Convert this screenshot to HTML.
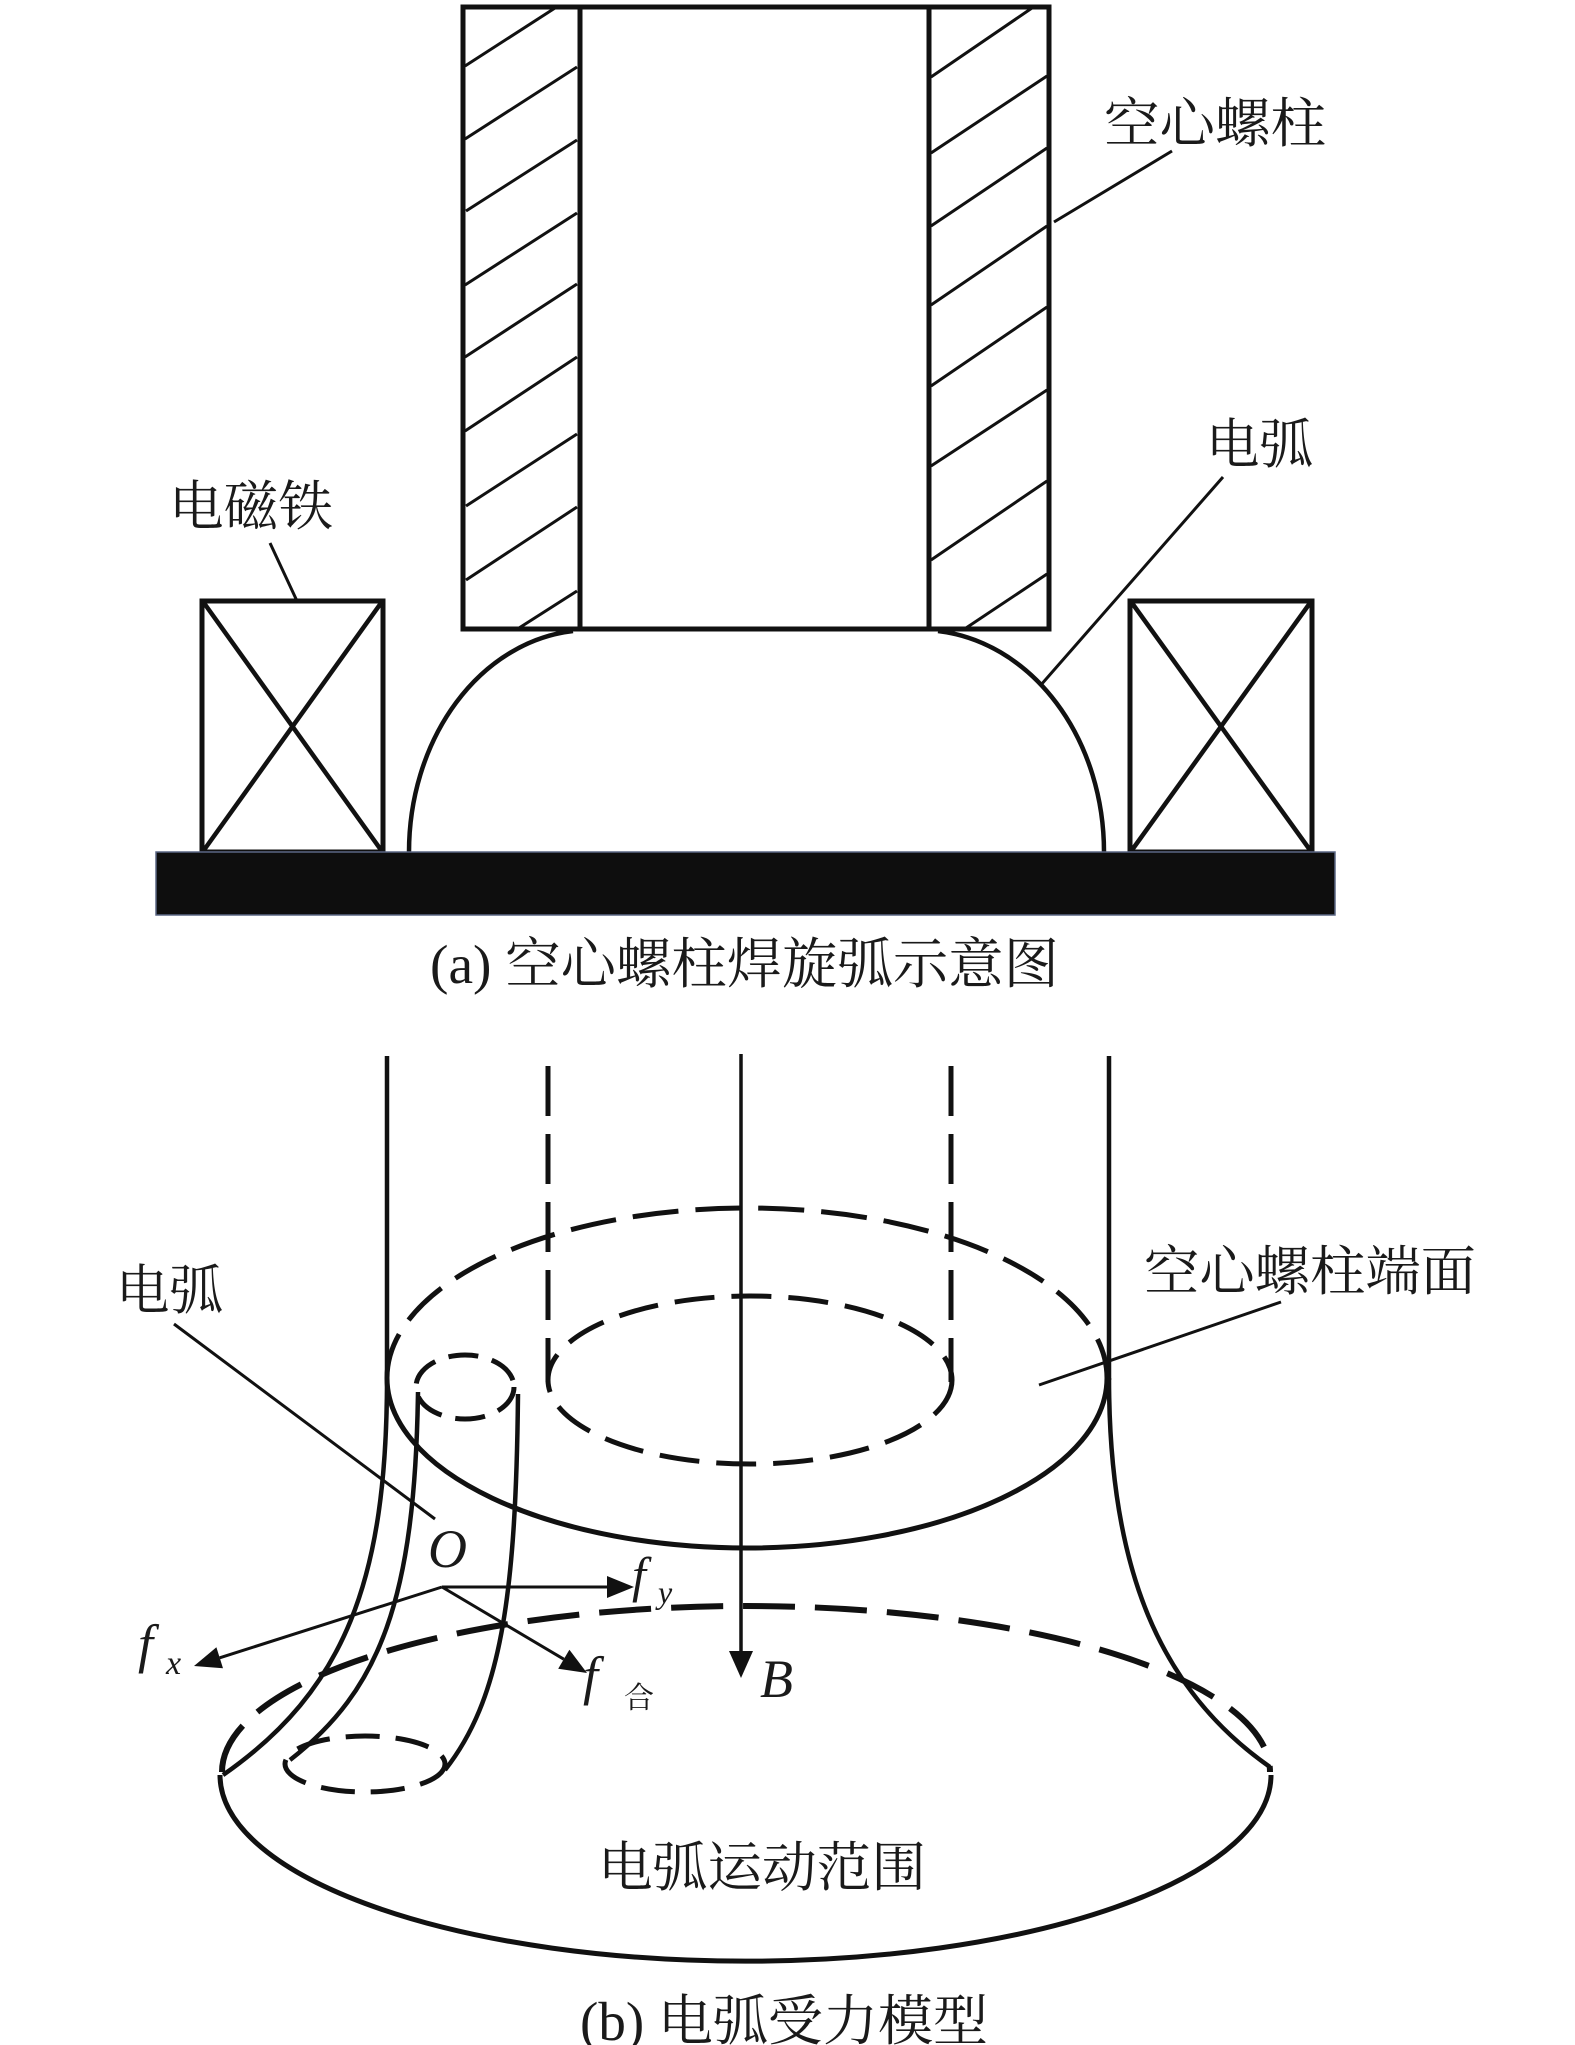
<!DOCTYPE html>
<html><head><meta charset="utf-8">
<style>
html,body{margin:0;padding:0;background:#fff;}
svg{display:block;}
text{font-family:"Liberation Serif","Noto Serif CJK SC",serif;fill:#1a1a1a;}
.it{font-style:italic;}
</style></head><body>
<svg width="1575" height="2045" viewBox="0 0 1575 2045" xmlns="http://www.w3.org/2000/svg">
<!-- ===== Part (a) ===== -->
<g fill="none" stroke="#111" stroke-linecap="butt">
  <rect x="463" y="7" width="586" height="622" stroke-width="5"/>
  <line x1="580" y1="7" x2="580" y2="629" stroke-width="5"/>
  <line x1="929" y1="7" x2="929" y2="629" stroke-width="5"/>
  <g stroke-width="3">
    <line x1="465" y1="66" x2="555" y2="8"/>
    <line x1="465" y1="139" x2="577" y2="67"/>
    <line x1="466" y1="211" x2="577" y2="140"/>
    <line x1="465" y1="285" x2="577" y2="213"/>
    <line x1="465" y1="357" x2="577" y2="284"/>
    <line x1="465" y1="431" x2="577" y2="357"/>
    <line x1="466" y1="506" x2="577" y2="434"/>
    <line x1="466" y1="580" x2="577" y2="507"/>
    <line x1="519" y1="628" x2="577" y2="591"/>
    <line x1="931" y1="77" x2="1032" y2="8"/>
    <line x1="931" y1="153" x2="1047" y2="76"/>
    <line x1="931" y1="226" x2="1047" y2="148"/>
    <line x1="931" y1="305" x2="1047" y2="226"/>
    <line x1="931" y1="386" x2="1047" y2="307"/>
    <line x1="931" y1="466" x2="1047" y2="390"/>
    <line x1="931" y1="560" x2="1047" y2="481"/>
    <line x1="966" y1="628" x2="1047" y2="574"/>
  </g>
  <rect x="202" y="601" width="181" height="251" stroke-width="5"/>
  <line x1="204" y1="603" x2="381" y2="850" stroke-width="4.5"/>
  <line x1="381" y1="603" x2="204" y2="850" stroke-width="4.5"/>
  <rect x="1130" y="601" width="182" height="251" stroke-width="5"/>
  <line x1="1132" y1="603" x2="1310" y2="850" stroke-width="4.5"/>
  <line x1="1310" y1="603" x2="1132" y2="850" stroke-width="4.5"/>
  <path d="M573,631 A181 222 0 0 0 409,852" stroke-width="4.5"/>
  <path d="M938,631 A184 222 0 0 1 1104,852" stroke-width="4.5"/>
  <line x1="270" y1="543" x2="297" y2="601" stroke-width="3"/>
  <line x1="1054" y1="222" x2="1172" y2="151" stroke-width="3"/>
  <line x1="1223" y1="477" x2="1040" y2="686" stroke-width="3"/>
</g>
<rect x="156" y="852" width="1179" height="63" fill="#0e0e0e" stroke="#5a6684" stroke-width="1.5"/>

<text x="1104" y="142" font-size="54" textLength="222" lengthAdjust="spacingAndGlyphs">空心螺柱</text>
<text x="169" y="525" font-size="54" textLength="164" lengthAdjust="spacingAndGlyphs">电磁铁</text>
<text x="1206" y="463" font-size="54" textLength="107" lengthAdjust="spacingAndGlyphs">电弧</text>
<text x="430" y="983" font-size="55" textLength="629" lengthAdjust="spacingAndGlyphs">(a) 空心螺柱焊旋弧示意图</text>

<!-- ===== Part (b) ===== -->
<g fill="none" stroke="#111" stroke-linecap="butt">
  <line x1="387" y1="1056" x2="387" y2="1380" stroke-width="4.5"/>
  <line x1="1109" y1="1056" x2="1109" y2="1380" stroke-width="4.5"/>
  <line x1="548" y1="1066" x2="548" y2="1382" stroke-width="5" stroke-dasharray="50 18"/>
  <line x1="951" y1="1066" x2="951" y2="1382" stroke-width="5" stroke-dasharray="50 18"/>
  <line x1="741" y1="1054" x2="741" y2="1655" stroke-width="3.5"/>
  <path d="M387,1378 A360 170 0 0 1 1107,1378" stroke-width="5" stroke-dasharray="46 17"/>
  <path d="M387,1378 A360 170 0 0 0 1107,1378" stroke-width="5"/>
  <ellipse cx="750" cy="1380" rx="202" ry="84" stroke-width="5" stroke-dasharray="40 17"/>
  <ellipse cx="465" cy="1387" rx="49" ry="32" stroke-width="5" stroke-dasharray="30 14"/>
  <path d="M418,1392 C415,1600 380,1690 290,1760" stroke-width="4.5"/>
  <path d="M518,1394 C516,1600 500,1700 445,1770" stroke-width="4.5"/>
  <ellipse cx="365" cy="1764" rx="80" ry="28" stroke-width="5" stroke-dasharray="34 16"/>
  <path d="M387,1378 C387,1580 345,1690 223,1775" stroke-width="4.5"/>
  <path d="M1109,1378 C1109,1570 1160,1690 1270,1767" stroke-width="4.5"/>
  <path d="M222,1772 A524 166 0 0 1 1270,1772" stroke-width="6" stroke-dasharray="52 20"/>
  <path d="M220,1775 A525 186 0 0 0 1271,1775" stroke-width="5"/>
  <line x1="174" y1="1324" x2="435" y2="1519" stroke-width="3"/>
  <line x1="1039" y1="1385" x2="1281" y2="1302" stroke-width="3"/>
  <line x1="442" y1="1587" x2="609" y2="1587" stroke-width="3"/>
  <line x1="442" y1="1587" x2="219.7" y2="1657.8" stroke-width="3"/>
  <line x1="442" y1="1587" x2="563.8" y2="1659.2" stroke-width="3"/>
</g>
<g fill="#111" stroke="none">
  <polygon points="634,1587 607,1576 607,1598"/>
  <polygon points="194,1666 216.4,1647.3 223.0,1668.3"/>
  <polygon points="587,1673 558.2,1668.7 569.4,1649.7"/>
  <polygon points="741,1678 729,1651 753,1651"/>
</g>

<text x="116" y="1309" font-size="54" textLength="107" lengthAdjust="spacingAndGlyphs">电弧</text>
<text x="1144" y="1290" font-size="54" textLength="332" lengthAdjust="spacingAndGlyphs">空心螺柱端面</text>
<text x="598" y="1886" font-size="54" textLength="328" lengthAdjust="spacingAndGlyphs">电弧运动范围</text>
<text x="580" y="2040" font-size="55" textLength="408" lengthAdjust="spacingAndGlyphs">(b) 电弧受力模型</text>
<text class="it" x="428" y="1567" font-size="54">O</text>
<text class="it" x="760" y="1697" font-size="54">B</text>
<text class="it" x="632" y="1592" font-size="50">f</text>
<text class="it" x="658" y="1603" font-size="32">y</text>
<text class="it" x="138" y="1662" font-size="54">f</text>
<text class="it" x="166" y="1674" font-size="34">x</text>
<text class="it" x="583" y="1694" font-size="54">f</text>
<text x="624" y="1708" font-size="30">合</text>
</svg>
</body></html>
